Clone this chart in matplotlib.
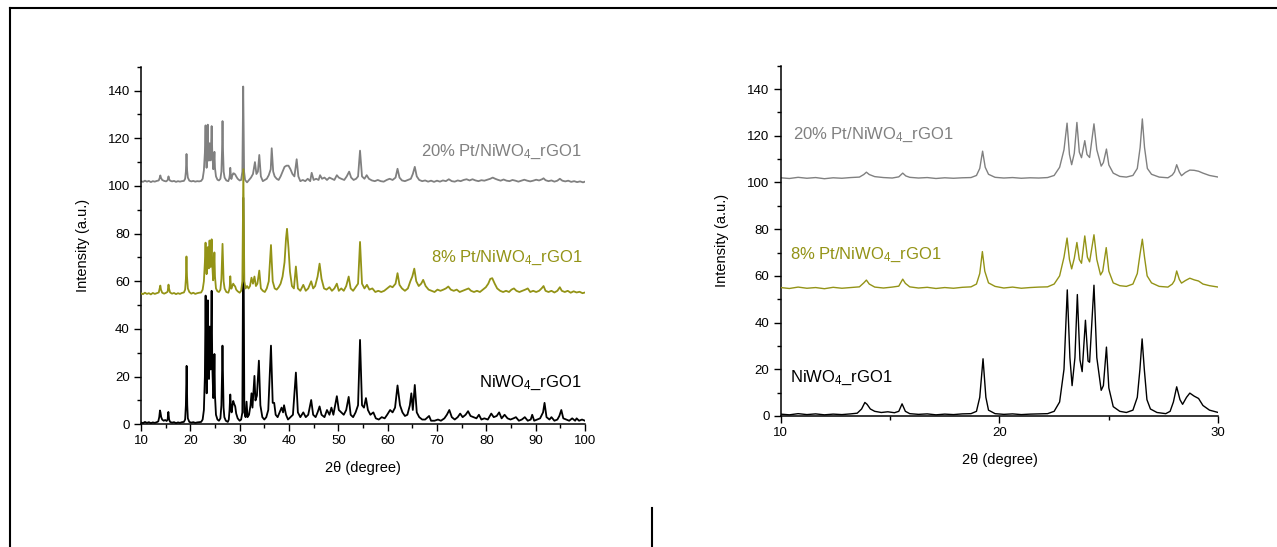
import numpy as np
import matplotlib
matplotlib.use("Agg")
import matplotlib.pyplot as plt
from matplotlib.ticker import MultipleLocator
from matplotlib.lines import Line2D

plt.rcParams["font.family"] = ["Liberation Sans", "DejaVu Sans"]
plt.rcParams["mathtext.fontset"] = "custom"
plt.rcParams["mathtext.rm"] = "Liberation Sans"
plt.rcParams["mathtext.it"] = "Liberation Sans:italic"

# XRD traces (2theta, intensity)
black_xy = [
    (10.0, 0.8), (10.4, 0.5), (10.8, 1.0), (11.2, 0.6), (11.6, 0.9), (12.0, 0.5), (12.4, 0.8),
    (12.8, 0.6), (13.2, 0.9), (13.5, 1.2), (13.7, 3.0), (13.85, 5.8), (13.95, 5.0), (14.1, 3.0),
    (14.3, 2.0), (14.6, 1.5), (14.9, 1.8), (15.2, 1.4), (15.4, 2.0), (15.55, 5.2), (15.7, 2.0),
    (15.9, 1.0), (16.3, 0.7), (16.7, 0.9), (17.1, 0.5), (17.5, 0.8), (17.9, 0.6), (18.3, 0.9),
    (18.7, 1.0), (18.95, 2.0), (19.1, 8.0), (19.25, 24.5), (19.38, 8.0), (19.5, 2.5), (19.8, 1.0),
    (20.2, 0.7), (20.6, 0.9), (21.0, 0.6), (21.4, 0.8), (21.8, 0.9), (22.2, 1.0), (22.5, 2.0),
    (22.75, 6.0), (22.95, 20.0), (23.1, 54.0), (23.22, 25.0), (23.32, 13.0), (23.45, 25.0),
    (23.56, 52.0), (23.68, 24.0), (23.78, 19.0), (23.93, 41.0), (24.05, 23.5), (24.12, 23.0),
    (24.32, 56.0), (24.45, 25.0), (24.65, 11.0), (24.75, 13.0), (24.89, 29.5), (25.0, 12.0),
    (25.2, 4.0), (25.5, 2.0), (25.8, 1.5), (26.1, 2.5), (26.3, 8.0), (26.42, 20.0), (26.52, 33.0),
    (26.62, 20.0), (26.74, 7.0), (26.9, 3.0), (27.2, 1.5), (27.6, 1.0), (27.8, 2.0), (27.95, 6.0),
    (28.1, 12.5), (28.25, 7.0), (28.37, 5.0), (28.55, 8.0), (28.7, 9.8), (28.9, 8.5), (29.1, 7.5),
    (29.3, 4.5), (29.6, 2.5), (30.0, 1.5),
    (30.3, 2.0), (30.55, 5.0), (30.75, 95.0), (30.95, 5.0), (31.2, 3.0), (31.4, 9.5), (31.6, 3.0),
    (31.9, 4.0), (32.2, 8.0), (32.4, 13.0), (32.6, 7.0), (33.0, 20.3), (33.2, 10.0), (33.5, 12.0),
    (33.9, 26.7), (34.2, 8.0), (34.6, 3.0), (35.0, 2.0), (35.4, 3.0), (35.8, 6.0), (36.35, 33.0),
    (36.7, 9.0), (37.0, 9.0), (37.3, 4.0), (37.7, 3.0), (38.1, 5.0), (38.5, 7.0), (38.8, 5.0),
    (39.0, 8.0), (39.4, 4.0), (39.8, 2.0), (40.3, 3.0), (40.8, 4.0), (41.4, 21.7), (41.8, 5.0),
    (42.3, 3.0), (42.9, 5.0), (43.4, 3.0), (43.9, 4.0), (44.5, 10.2), (44.9, 4.0), (45.4, 3.0),
    (45.8, 5.0), (46.2, 7.5), (46.6, 4.0), (47.2, 3.0), (47.7, 6.0), (48.2, 4.0), (48.6, 7.0),
    (49.0, 4.0), (49.7, 11.8), (50.1, 6.0), (50.6, 5.0), (51.1, 4.0), (51.6, 6.0), (52.1, 11.5),
    (52.5, 4.0), (53.0, 3.0), (53.5, 5.0), (54.0, 8.0), (54.4, 35.4), (54.8, 8.0), (55.2, 7.0),
    (55.6, 11.0), (56.0, 6.0), (56.5, 4.0), (57.1, 5.0), (57.6, 2.5), (58.2, 2.0), (58.8, 3.0),
    (59.4, 2.5), (59.9, 4.0), (60.5, 6.0), (61.0, 5.0), (61.5, 7.0), (62.0, 16.3), (62.5, 8.0),
    (63.0, 5.0), (63.5, 3.5), (64.0, 4.0), (64.5, 8.0), (64.8, 13.0), (65.1, 6.0), (65.5, 16.5),
    (65.9, 5.0), (66.4, 3.0), (67.0, 2.0), (67.6, 2.0), (68.4, 3.5), (68.8, 1.5), (69.5, 1.5),
    (70.2, 2.0), (70.8, 1.5), (71.5, 2.5), (72.0, 4.0), (72.5, 6.0), (73.0, 3.0), (73.6, 2.0),
    (74.2, 3.0), (74.7, 4.5), (75.2, 3.0), (75.8, 4.0), (76.3, 5.5), (76.8, 3.5), (77.4, 3.0),
    (78.0, 2.5), (78.5, 4.0), (79.0, 2.0), (79.6, 2.5), (80.3, 2.0), (81.0, 4.5), (81.5, 3.0),
    (82.1, 3.5), (82.6, 5.0), (83.1, 2.5), (83.7, 4.0), (84.3, 2.5), (84.9, 2.0), (85.5, 2.5),
    (86.0, 3.0), (86.6, 1.5), (87.2, 2.0), (87.8, 3.0), (88.4, 1.5), (89.0, 2.0), (89.3, 4.0),
    (89.7, 1.5), (90.3, 2.0), (90.9, 2.5), (91.5, 5.0), (91.8, 9.0), (92.2, 3.0), (92.8, 2.0),
    (93.2, 3.0), (93.8, 1.5), (94.4, 2.0), (94.8, 3.5), (95.2, 6.0), (95.6, 2.5), (96.2, 2.0),
    (96.8, 1.5), (97.4, 2.5), (98.0, 1.5), (98.3, 2.5), (98.8, 1.5), (99.4, 2.0), (100.0, 1.5),
]

olive_xy = [
    (10.0, 55.0), (10.4, 54.6), (10.8, 55.2), (11.2, 54.7), (11.6, 55.0), (12.0, 54.5), (12.4, 55.1),
    (12.8, 54.7), (13.2, 55.0), (13.6, 55.3), (13.8, 57.0), (13.92, 58.2), (14.05, 56.5), (14.3, 55.2),
    (14.7, 54.8), (15.1, 55.2), (15.4, 55.6), (15.58, 58.6), (15.7, 56.8), (15.9, 55.3), (16.3, 54.8),
    (16.7, 55.1), (17.1, 54.6), (17.5, 55.0), (17.9, 54.7), (18.3, 55.1), (18.7, 55.3), (18.95, 56.5),
    (19.1, 61.0), (19.22, 70.4), (19.33, 62.0), (19.5, 57.0), (19.8, 55.5), (20.2, 54.8), (20.6, 55.2),
    (21.0, 54.7), (21.4, 55.0), (21.8, 55.2), (22.2, 55.3), (22.5, 56.5), (22.75, 60.0), (22.95, 68.0),
    (23.09, 76.2), (23.2, 67.0), (23.3, 63.0), (23.42, 67.5), (23.54, 74.3), (23.65, 67.0),
    (23.75, 65.4), (23.9, 77.1), (24.02, 68.0), (24.12, 66.0), (24.32, 77.6), (24.45, 67.0),
    (24.62, 60.4), (24.72, 62.0), (24.88, 72.1), (25.0, 62.0), (25.2, 57.0), (25.5, 55.8),
    (25.8, 55.5), (26.1, 56.5), (26.3, 61.0), (26.42, 69.0), (26.53, 75.7), (26.63, 68.0),
    (26.75, 60.0), (26.95, 57.0), (27.3, 55.5), (27.7, 55.2), (27.9, 56.5), (28.0, 58.0),
    (28.1, 62.1), (28.22, 58.5), (28.32, 56.9), (28.5, 58.0), (28.7, 59.0), (28.9, 58.3),
    (29.1, 57.8), (29.3, 56.5), (29.6, 55.8), (30.0, 55.2),
    (30.3, 56.0), (30.55, 60.0), (30.75, 107.0), (30.95, 60.0), (31.2, 57.0), (31.5, 58.0),
    (31.8, 57.0), (32.1, 58.0), (32.4, 61.5), (32.7, 59.0), (33.0, 62.0), (33.3, 58.0), (33.6, 59.0),
    (33.98, 64.5), (34.3, 57.0), (34.7, 56.0), (35.1, 55.5), (35.5, 57.0), (35.9, 60.0), (36.35, 75.2),
    (36.7, 60.0), (37.1, 57.0), (37.5, 56.5), (37.9, 57.5), (38.3, 59.0), (38.7, 62.0), (39.1, 68.0),
    (39.4, 78.0), (39.6, 82.0), (39.9, 74.0), (40.2, 64.0), (40.6, 58.0), (41.0, 57.0), (41.4, 66.2),
    (41.8, 57.0), (42.3, 56.0), (42.9, 58.5), (43.4, 56.0), (43.9, 57.0), (44.5, 60.0), (44.9, 57.0),
    (45.3, 58.0), (45.8, 62.0), (46.2, 67.4), (46.6, 61.0), (47.1, 57.0), (47.6, 56.5), (48.2, 57.5),
    (48.7, 56.0), (49.2, 57.0), (49.7, 59.0), (50.1, 56.0), (50.6, 57.0), (51.1, 56.0), (51.6, 58.0),
    (52.1, 62.0), (52.5, 57.0), (53.0, 56.0), (53.5, 57.5), (54.0, 59.0), (54.4, 76.5), (54.8, 59.0),
    (55.3, 57.0), (55.8, 58.5), (56.3, 56.5), (56.9, 57.0), (57.5, 55.5), (58.1, 56.0), (58.7, 55.5),
    (59.3, 56.0), (59.9, 57.0), (60.5, 58.0), (61.0, 57.5), (61.6, 59.0), (62.0, 63.4), (62.4, 58.5),
    (62.9, 57.0), (63.5, 56.0), (64.1, 57.0), (64.6, 60.0), (65.0, 62.0), (65.4, 65.3), (65.8, 60.0),
    (66.3, 58.0), (66.8, 59.0), (67.2, 60.6), (67.7, 58.0), (68.3, 56.5), (68.9, 56.0), (69.5, 55.5),
    (70.1, 56.5), (70.7, 56.0), (71.3, 56.5), (71.8, 57.0), (72.3, 57.8), (72.8, 56.5), (73.4, 56.0),
    (74.0, 56.5), (74.6, 55.5), (75.2, 56.0), (75.8, 56.5), (76.4, 57.0), (76.9, 56.0), (77.5, 55.5),
    (78.1, 56.0), (78.7, 55.5), (79.3, 56.5), (79.9, 57.5), (80.4, 59.0), (80.8, 61.0), (81.2, 61.3),
    (81.7, 59.0), (82.2, 57.0), (82.8, 56.0), (83.4, 55.5), (84.0, 56.0), (84.6, 55.5), (85.1, 56.5),
    (85.6, 57.0), (86.1, 56.0), (86.7, 55.5), (87.3, 56.0), (87.9, 56.5), (88.4, 57.0), (88.9, 55.5),
    (89.5, 56.0), (90.1, 55.5), (90.7, 56.0), (91.2, 57.0), (91.6, 58.0), (92.0, 56.0), (92.6, 55.5),
    (93.2, 56.0), (93.8, 55.3), (94.4, 56.0), (94.9, 57.5), (95.3, 56.0), (95.9, 55.5), (96.5, 56.0),
    (97.1, 55.2), (97.7, 55.8), (98.3, 55.3), (98.9, 55.6), (99.5, 55.0), (100.0, 55.3),
]

gray_xy = [
    (10.0, 102.0), (10.4, 101.7), (10.8, 102.2), (11.2, 101.8), (11.6, 102.1), (12.0, 101.6),
    (12.4, 102.0), (12.8, 101.8), (13.2, 102.1), (13.6, 102.3), (13.8, 103.4), (13.92, 104.4),
    (14.05, 103.4), (14.3, 102.5), (14.7, 102.1), (15.1, 101.9), (15.4, 102.4), (15.58, 104.0),
    (15.72, 102.8), (15.9, 102.2), (16.3, 101.9), (16.7, 102.1), (17.1, 101.7), (17.5, 102.0),
    (17.9, 101.8), (18.3, 102.0), (18.7, 102.1), (18.95, 103.0), (19.1, 106.0), (19.23, 113.4),
    (19.35, 106.5), (19.5, 103.5), (19.8, 102.2), (20.2, 101.9), (20.6, 102.1), (21.0, 101.8),
    (21.4, 102.0), (21.8, 101.9), (22.2, 102.1), (22.5, 103.0), (22.75, 106.5), (22.95, 114.0),
    (23.09, 125.4), (23.2, 112.0), (23.3, 107.6), (23.42, 112.5), (23.54, 125.7), (23.65, 113.0),
    (23.75, 110.6), (23.9, 117.9), (24.0, 112.0), (24.12, 110.7), (24.32, 125.1), (24.45, 114.0),
    (24.65, 107.0), (24.75, 108.5), (24.89, 114.3), (25.0, 107.5), (25.2, 104.0), (25.5, 102.6),
    (25.8, 102.3), (26.1, 103.0), (26.3, 106.0), (26.43, 115.0), (26.53, 127.2), (26.63, 115.0),
    (26.76, 106.0), (26.95, 103.5), (27.3, 102.3), (27.7, 102.0), (27.9, 103.2), (28.0, 104.5),
    (28.1, 107.6), (28.22, 104.5), (28.32, 102.9), (28.5, 104.3), (28.7, 105.3), (28.9, 105.2),
    (29.1, 104.8), (29.3, 104.0), (29.6, 103.0), (30.0, 102.3),
    (30.3, 102.5), (30.55, 106.0), (30.72, 141.7), (30.9, 106.0), (31.1, 102.5), (31.5, 101.5),
    (31.9, 102.5), (32.3, 103.5), (32.7, 105.0), (33.1, 110.0), (33.4, 105.0), (33.7, 106.0),
    (33.98, 113.0), (34.3, 104.0), (34.7, 102.0), (35.1, 102.5), (35.5, 103.0), (35.9, 104.5),
    (36.3, 107.0), (36.5, 115.8), (36.8, 106.0), (37.1, 104.0), (37.5, 103.0), (37.9, 102.5),
    (38.3, 104.0), (38.7, 106.0), (39.1, 108.0), (39.5, 108.5), (39.9, 108.5), (40.3, 107.0),
    (40.7, 105.0), (41.1, 104.0), (41.56, 111.2), (41.9, 104.0), (42.3, 102.0), (42.8, 102.5),
    (43.3, 102.0), (43.8, 103.0), (44.3, 102.0), (44.6, 105.5), (45.0, 102.5), (45.5, 103.0),
    (46.0, 102.5), (46.3, 104.5), (46.7, 103.0), (47.2, 103.5), (47.7, 102.5), (48.2, 103.5),
    (48.7, 103.0), (49.2, 102.5), (49.7, 104.5), (50.1, 103.5), (50.6, 103.0), (51.2, 102.5),
    (51.7, 104.0), (52.2, 106.0), (52.6, 103.5), (53.1, 102.5), (53.6, 103.0), (54.0, 104.0),
    (54.4, 114.8), (54.8, 104.0), (55.3, 103.0), (55.75, 104.5), (56.2, 103.0), (56.8, 102.3),
    (57.4, 102.0), (58.0, 102.5), (58.6, 102.0), (59.2, 101.8), (59.8, 102.5), (60.4, 103.0),
    (61.0, 102.5), (61.6, 103.5), (62.0, 107.2), (62.4, 103.5), (62.9, 102.3), (63.5, 102.0),
    (64.1, 102.5), (64.7, 103.0), (65.1, 105.0), (65.5, 108.0), (65.9, 104.0), (66.4, 102.5),
    (67.0, 102.0), (67.6, 102.3), (68.2, 101.8), (68.8, 102.2), (69.4, 101.7), (70.0, 102.2),
    (70.6, 101.8), (71.2, 102.3), (71.8, 102.0), (72.4, 102.8), (73.0, 102.0), (73.6, 101.8),
    (74.2, 102.3), (74.8, 102.0), (75.4, 102.5), (76.0, 102.8), (76.6, 102.3), (77.2, 102.8),
    (77.8, 102.3), (78.4, 102.0), (79.0, 102.4), (79.6, 102.2), (80.2, 102.6), (80.8, 103.0),
    (81.3, 103.5), (81.8, 103.0), (82.3, 102.6), (82.9, 102.2), (83.5, 102.7), (84.1, 102.2),
    (84.7, 102.0), (85.3, 102.5), (85.9, 102.2), (86.5, 101.8), (87.1, 102.2), (87.7, 102.6),
    (88.3, 102.2), (88.9, 101.9), (89.5, 102.2), (90.1, 102.6), (90.7, 102.3), (91.3, 102.8),
    (91.6, 103.2), (92.0, 102.4), (92.6, 102.0), (93.2, 102.3), (93.8, 101.8), (94.4, 102.2),
    (94.9, 103.0), (95.4, 102.2), (96.0, 101.9), (96.6, 102.2), (97.2, 101.7), (97.8, 102.0),
    (98.4, 101.6), (99.0, 101.9), (99.6, 101.5), (100.0, 101.8),
]

labels = ["NiWO$_4$_rGO1", "8% Pt/NiWO$_4$_rGO1", "20% Pt/NiWO$_4$_rGO1"]
colors = ["#000000", "#939316", "#808080"]
traces = [np.array(black_xy), np.array(olive_xy), np.array(gray_xy)]
zorders = [3, 4, 2]

fig = plt.figure(figsize=(12.77, 5.47), dpi=100)
ax1 = fig.add_axes([0.1104, 0.2243, 0.3477, 0.6537])
ax2 = fig.add_axes([0.6113, 0.2395, 0.3427, 0.6404])

for ax, lw in [(ax1, 1.3), (ax2, 1.0)]:
    for tr, c, z in zip(traces, colors, zorders):
        ax.plot(tr[:, 0], tr[:, 1], color=c, lw=lw, zorder=z)
    ax.set_ylim(0, 150)
    ax.spines["top"].set_visible(False)
    ax.spines["right"].set_visible(False)
    ax.spines["left"].set_linewidth(1.1)
    ax.spines["bottom"].set_linewidth(1.1)
    ax.yaxis.set_major_locator(MultipleLocator(20))
    ax.yaxis.set_minor_locator(MultipleLocator(10))
    ax.xaxis.set_minor_locator(MultipleLocator(5))
    ax.tick_params(which="major", direction="out", length=5, width=1, labelsize=9.5, pad=3)
    ax.tick_params(which="minor", direction="out", length=3, width=1)
    ax.set_ylabel("Intensity (a.u.)", fontsize=10.5, labelpad=13)
    ax.set_xlabel("2\u03b8 (degree)", fontsize=10.5, labelpad=10)
    ax.set_yticks([0, 20, 40, 60, 80, 100, 120, 140])

ax1.set_xlim(10, 100)
ax1.xaxis.set_major_locator(MultipleLocator(10))
ax2.set_xlim(10, 30)
ax2.xaxis.set_major_locator(MultipleLocator(10))

# series labels
ax1.text(99.4, 114.5, labels[2], color=colors[2], fontsize=12, ha="right", va="center")
ax1.text(99.4, 69.8, labels[1], color=colors[1], fontsize=12, ha="right", va="center")
ax1.text(99.2, 17.3, labels[0], color=colors[0], fontsize=12, ha="right", va="center")
ax2.text(10.55, 120.5, labels[2], color=colors[2], fontsize=12, ha="left", va="center")
ax2.text(10.42, 69.0, labels[1], color=colors[1], fontsize=12, ha="left", va="center")
ax2.text(10.42, 16.3, labels[0], color=colors[0], fontsize=12, ha="left", va="center")

# frame lines from the source page
fig.add_artist(Line2D([0.0078, 1.0], [0.9854, 0.9854], color="black", lw=1.5))
fig.add_artist(Line2D([0.0078, 0.0078], [0.0, 0.9854], color="black", lw=1.5))
fig.add_artist(Line2D([0.5106, 0.5106], [0.0, 0.0713], color="black", lw=1.5))

fig.savefig("out.png", dpi=100)
